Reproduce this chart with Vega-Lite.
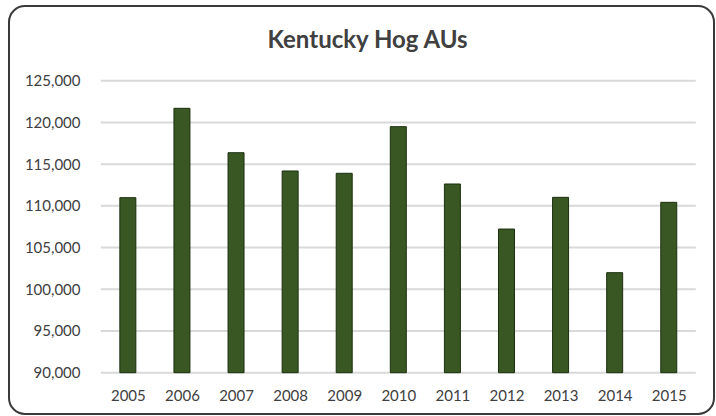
{
  "$schema": "https://vega.github.io/schema/vega-lite/v6.json",
  "width": 705,
  "height": 408,
  "autosize": {"type": "none"},
  "padding": {"left": 9, "top": 6, "right": 2, "bottom": 2},
  "background": "white",
  "config": {
    "view": {"stroke": "#3a3a3a", "strokeWidth": 2, "cornerRadius": 16},
    "font": "Lato"
  },
  "title": {
    "text": "Kentucky Hog AUs",
    "font": "Lato",
    "fontSize": 24,
    "fontWeight": "bold",
    "color": "#404040",
    "anchor": "middle",
    "baseline": "alphabetic",
    "offset": -66,
    "dx": 6
  },
  "datasets": {
    "hogs": [
      {"year": 2005, "aus": 110980},
      {"year": 2006, "aus": 121690},
      {"year": 2007, "aus": 116370},
      {"year": 2008, "aus": 114180},
      {"year": 2009, "aus": 113900},
      {"year": 2010, "aus": 119490},
      {"year": 2011, "aus": 112620},
      {"year": 2012, "aus": 107220},
      {"year": 2013, "aus": 111020},
      {"year": 2014, "aus": 101990},
      {"year": 2015, "aus": 110420}
    ],
    "grid": [
      {"aus": 90000}, {"aus": 95000}, {"aus": 100000}, {"aus": 105000},
      {"aus": 110000}, {"aus": 115000}, {"aus": 120000}, {"aus": 125000}
    ]
  },
  "encoding": {
    "y": {
      "field": "aus",
      "type": "quantitative",
      "scale": {"domain": [85050, 133954], "nice": false, "zero": false},
      "axis": {
        "values": [90000, 95000, 100000, 105000, 110000, 115000, 120000, 125000],
        "format": ",d",
        "grid": false,
        "domain": false,
        "ticks": false,
        "labelPadding": 0,
        "offset": -71,
        "labelFont": "Lato",
        "labelFontSize": 15,
        "labelColor": "#404040",
        "title": null
      }
    }
  },
  "layer": [
    {
      "data": {"name": "grid"},
      "mark": {"type": "rule", "color": "#d9d9d9", "strokeWidth": 2},
      "encoding": {
        "x": {
          "datum": 2004.5,
          "type": "quantitative",
          "scale": {"domain": [2002.895, 2015.744], "nice": false, "zero": false},
          "axis": {
            "values": [2005, 2006, 2007, 2008, 2009, 2010, 2011, 2012, 2013, 2014, 2015],
            "format": "d",
            "grid": false,
            "domain": false,
            "ticks": false,
            "labelPadding": 0,
            "offset": -26,
            "labelFont": "Lato",
            "labelFontSize": 15,
            "labelColor": "#404040",
            "labelFlush": false,
            "labelOverlap": false,
            "title": null
          }
        },
        "x2": {"datum": 2015.5}
      }
    },
    {
      "data": {"name": "hogs"},
      "mark": {"type": "bar", "size": 16, "color": "#385723", "stroke": "#1c300f", "strokeWidth": 1},
      "encoding": {
        "x": {
          "field": "year",
          "type": "quantitative",
          "scale": {"domain": [2002.895, 2015.744], "nice": false, "zero": false},
          "axis": {
            "values": [2005, 2006, 2007, 2008, 2009, 2010, 2011, 2012, 2013, 2014, 2015],
            "format": "d",
            "grid": false,
            "domain": false,
            "ticks": false,
            "labelPadding": 0,
            "offset": -26,
            "labelFont": "Lato",
            "labelFontSize": 15,
            "labelColor": "#404040",
            "labelFlush": false,
            "labelOverlap": false,
            "title": null
          }
        },
        "y2": {"datum": 90000}
      }
    }
  ]
}
